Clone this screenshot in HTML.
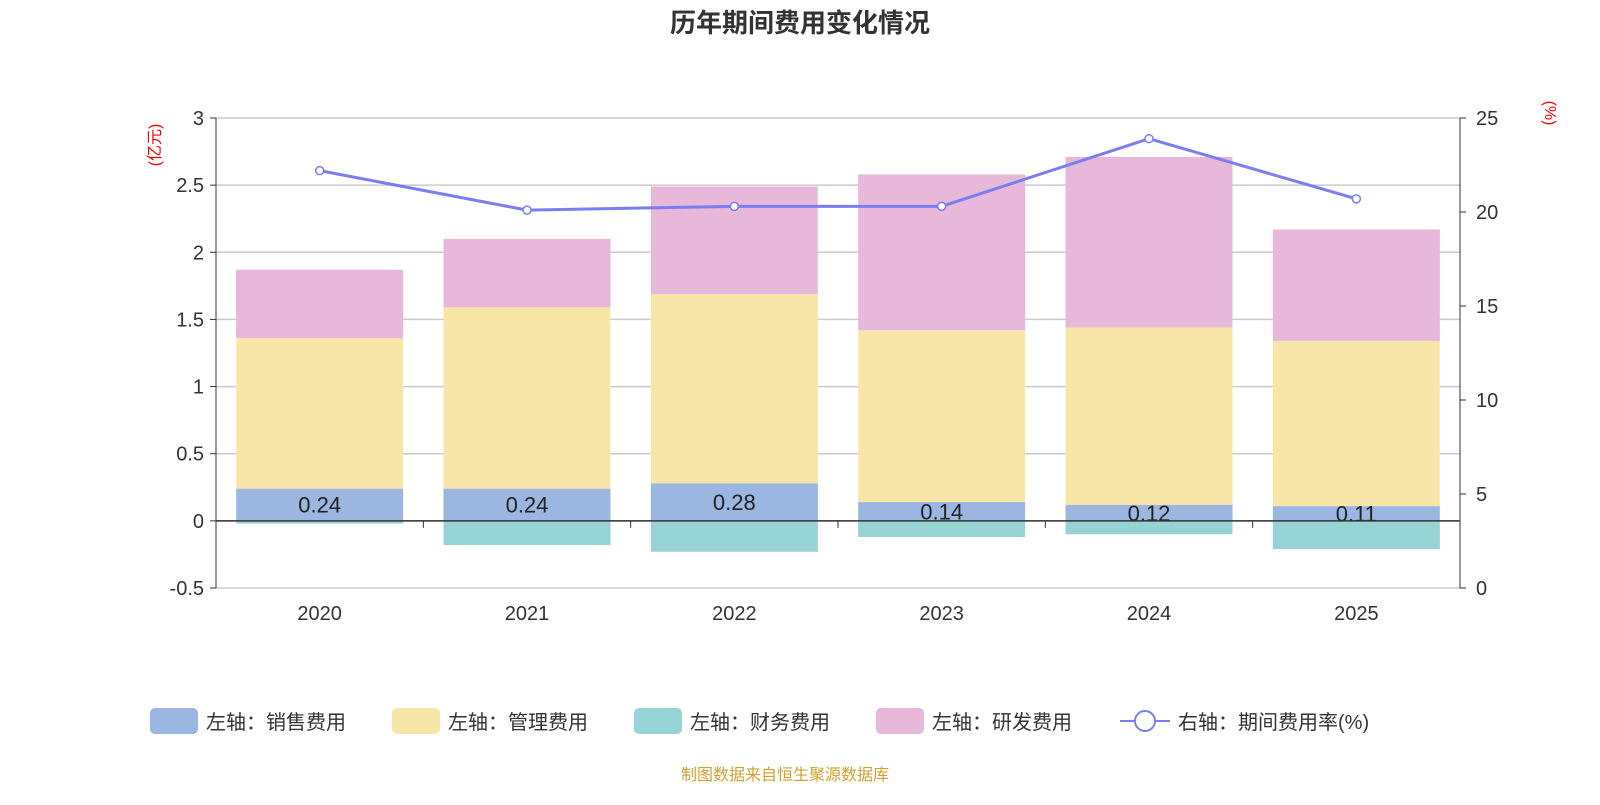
<!DOCTYPE html>
<html><head><meta charset="utf-8"><style>
body{margin:0;background:#fff;}
svg text{font-family:"Liberation Sans","Noto Sans CJK SC",sans-serif;}
</style></head><body>
<svg id="c" width="1600" height="800" xmlns="http://www.w3.org/2000/svg">
<text x="800" y="32" text-anchor="middle" font-size="26" font-weight="bold" fill="#333">历年期间费用变化情况</text>
<text transform="translate(160,145) rotate(-90)" text-anchor="middle" font-size="16" fill="red">(亿元)</text>
<text transform="translate(1545,113) rotate(90)" text-anchor="middle" font-size="16" fill="red">(%)</text>
<g id="grid"></g><g id="bars"></g><g id="axes"></g><g id="line"></g>
<g id="legend" font-size="20" fill="#333">
<rect x="150" y="708" width="48" height="26" rx="5" fill="#9bb6e0"/>
<text x="206" y="729">左轴：销售费用</text>
<rect x="392" y="708" width="48" height="26" rx="5" fill="#f8e6a8"/>
<text x="448" y="729">左轴：管理费用</text>
<rect x="634" y="708" width="48" height="26" rx="5" fill="#96d3d4"/>
<text x="690" y="729">左轴：财务费用</text>
<rect x="876" y="708" width="48" height="26" rx="5" fill="#e7b8da"/>
<text x="932" y="729">左轴：研发费用</text>
<line x1="1120" y1="721" x2="1170" y2="721" stroke="#7b7ef0" stroke-width="2"/>
<circle cx="1145" cy="721" r="10" fill="#fff" stroke="#7b7ef0" stroke-width="2"/>
<text x="1178" y="729">右轴：期间费用率(%)</text>
</g>
<text x="785" y="780" text-anchor="middle" font-size="16" fill="#d4a030">制图数据来自恒生聚源数据库</text>
</svg>
<script>
const categories=["2020","2021","2022","2023","2024","2025"];
const sales=[0.24,0.24,0.28,0.14,0.12,0.11];
const mgmt=[1.12,1.35,1.41,1.28,1.32,1.23];
const finance=[-0.02,-0.18,-0.23,-0.12,-0.10,-0.21];
const rd=[0.51,0.51,0.80,1.16,1.27,0.83];
const rate=[22.2,20.1,20.3,20.3,23.9,20.7];
const leftTicks=[-0.5,0,0.5,1,1.5,2,2.5,3];
const rightTicks=[0,5,10,15,20,25];

const NS="http://www.w3.org/2000/svg";
const X0=216,X1=1460,YT=118,YB=588;
const bw=(X1-X0)/categories.length;
const yL=v=>YT+(3-v)*(YB-YT)/3.5;
const yR=v=>YB-v*(YB-YT)/25;
const xc=i=>X0+bw*(i+0.5);
function mk(tag,attrs,parent,txt){const e=document.createElementNS(NS,tag);for(const k in attrs)e.setAttribute(k,attrs[k]);if(txt!==undefined)e.textContent=txt;document.getElementById(parent).appendChild(e);return e;}
leftTicks.forEach(t=>{
 const g=mk('line',{x1:X0,x2:X1,y1:yL(t),y2:yL(t),stroke:'#ccc','stroke-width':1.5},'grid');
 
 
 const tl=mk('line',{x1:X0-6,x2:X0,y1:yL(t),y2:yL(t),stroke:'#333'},'axes');
 
 
 const lb=mk('text',{x:X0-12,y:yL(t)+7,'text-anchor':'end','font-size':20,fill:'#333'},'axes',String(t));
 
 
});
rightTicks.forEach(t=>{
 const tl=mk('line',{x1:X1,x2:X1+6,y1:yR(t),y2:yR(t),stroke:'#333'},'axes');
 
 
 const lb=mk('text',{x:X1+16,y:yR(t)+7,'font-size':20,fill:'#333'},'axes',String(t));
 
 
});
let a=mk('line',{x1:X0,x2:X0,y1:YT,y2:YB,stroke:'#333'},'axes');


a=mk('line',{x1:X1,x2:X1,y1:YT,y2:YB,stroke:'#333'},'axes');


a=mk('line',{x1:X0,x2:X1,y1:yL(0),y2:yL(0),stroke:'#333','stroke-width':1.5},'axes');


for(let i=0;i<=categories.length;i++){
 const t=mk('line',{x1:X0+bw*i,x2:X0+bw*i,y1:yL(0),y2:yL(0)+7,stroke:'#333'},'axes');
 
 
}
const bW=167;
function bar(i,lo,hi,col,name){
 const r=mk('rect',{x:xc(i)-bW/2,y:yL(Math.max(lo,hi)),width:bW,height:Math.abs(yL(lo)-yL(hi)),fill:col},'bars');
 
 
}
categories.forEach((c,i)=>{
 bar(i,0,sales[i],'#9bb6e0','bar-sales-'+c);
 bar(i,sales[i],sales[i]+mgmt[i],'#f8e6a8','bar-mgmt-'+c);
 bar(i,sales[i]+mgmt[i],sales[i]+mgmt[i]+rd[i],'#e7b8da','bar-rd-'+c);
 bar(i,finance[i],0,'#96d3d4','bar-finance-'+c);
 const lb=mk('text',{x:xc(i),y:yL(sales[i]/2)+8,'text-anchor':'middle','font-size':22,fill:'#222'},'bars',sales[i].toFixed(2));
 
 
 const xl=mk('text',{x:xc(i),y:620,'text-anchor':'middle','font-size':20,fill:'#333'},'axes',c);
 
 
});
const pl=mk('polyline',{points:rate.map((v,i)=>xc(i)+','+yR(v)).join(' '),fill:'none',stroke:'#7b7ef0','stroke-width':3},'line');


rate.forEach((v,i)=>{
 const p=mk('circle',{cx:xc(i),cy:yR(v),r:4,fill:'#fff',stroke:'#7b7ef0','stroke-width':1.5},'line');
 
 
});
</script>
</body></html>
